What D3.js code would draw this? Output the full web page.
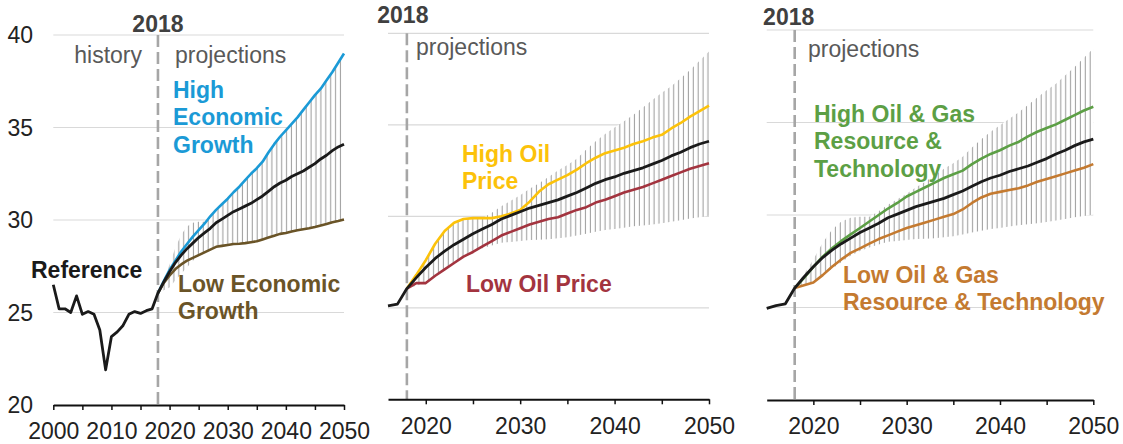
<!DOCTYPE html>
<html>
<head>
<meta charset="utf-8">
<script src="https://cdn.jsdelivr.net/npm/d3@7"></script>
<style>
    body { margin: 0; background: #fff; }
    svg text { font-family: Arial, "Liberation Sans", sans-serif; }
</style>
</head>
<body>
<svg id="chart" width="1123" height="444"></svg>
<script>
// ---- data ----
var refYears = d3.range(2000, 2051);
var projYears = d3.range(2018, 2051);

var reference = [26.5, 25.2, 25.2, 25.0, 25.9, 24.9, 25.05, 24.9, 24.05, 21.9,
                 23.7, 23.95, 24.3, 24.9, 25.05, 24.95, 25.1, 25.2, 26.05, 26.65,
                 27.2, 27.7, 28.1, 28.45, 28.75, 29.05, 29.3, 29.55, 29.85, 30.05,
                 30.25, 30.45, 30.6, 30.75, 30.9, 31.1, 31.3, 31.55, 31.8, 32.0,
                 32.15, 32.35, 32.5, 32.65, 32.85, 33.05, 33.3, 33.5, 33.75, 33.95,
                 34.1];

var highEcon = [26.05, 26.7, 27.3, 27.8, 28.3, 28.7, 29.1, 29.45, 29.8, 30.2,
                30.55, 30.85, 31.15, 31.5, 31.8, 32.15, 32.5, 32.8, 33.15, 33.65,
                34.1, 34.5, 34.85, 35.2, 35.55, 35.95, 36.35, 36.75, 37.1, 37.55,
                38.0, 38.5, 39.0];
var lowEcon = [26.05, 26.6, 27.0, 27.35, 27.6, 27.8, 27.95, 28.1, 28.25, 28.4,
               28.55, 28.6, 28.65, 28.7, 28.72, 28.75, 28.8, 28.85, 28.95, 29.05,
               29.15, 29.25, 29.3, 29.38, 29.45, 29.5, 29.55, 29.62, 29.7, 29.78,
               29.88, 29.95, 30.03];
var highOil = [26.05, 26.8, 27.6, 28.5, 29.2, 29.65, 29.85, 29.9, 29.9, 29.9,
               30.0, 30.15, 30.35, 30.8, 31.35, 31.75, 32.0, 32.25, 32.55, 32.9,
               33.2, 33.45, 33.6, 33.75, 33.95, 34.1, 34.3, 34.45, 34.8, 35.1,
               35.45, 35.75, 36.05];
var lowOil = [26.05, 26.35, 26.35, 26.75, 27.1, 27.45, 27.8, 28.05, 28.35, 28.65,
              28.95, 29.15, 29.35, 29.55, 29.7, 29.85, 29.95, 30.15, 30.35, 30.5,
              30.75, 30.9, 31.1, 31.3, 31.45, 31.6, 31.8, 32.0, 32.2, 32.4,
              32.6, 32.75, 32.9];
var highOG = [26.05, 26.6, 27.2, 27.75, 28.2, 28.6, 28.95, 29.3, 29.65, 30.0,
              30.35, 30.65, 31.0, 31.25, 31.5, 31.75, 32.0, 32.2, 32.4, 32.75,
              33.05, 33.3, 33.5, 33.75, 33.95, 34.25, 34.5, 34.7, 34.9, 35.15,
              35.4, 35.65, 35.85];
var lowOG = [26.05, 26.2, 26.35, 26.75, 27.2, 27.6, 27.95, 28.2, 28.45, 28.7,
             28.9, 29.1, 29.3, 29.45, 29.6, 29.75, 29.9, 30.05, 30.3, 30.65,
             30.95, 31.15, 31.25, 31.35, 31.45, 31.6, 31.8, 31.95, 32.1, 32.25,
             32.4, 32.55, 32.75];

var yTicks = [20, 25, 30, 35, 40];
var xTickLabels = [2000, 2010, 2020, 2030, 2040, 2050];
var splitYear = 2018;

var highEconLabel = ["High", "Economic", "Growth"];
var lowEconLabel = ["Low Economic", "Growth"];
var highOilLabel = ["High Oil", "Price"];
var lowOilLabel = ["Low Oil Price"];
var highOGLabel = ["High Oil & Gas", "Resource &", "Technology"];
var lowOGLabel = ["Low Oil & Gas", "Resource & Technology"];

// range of all side cases -> hatched band
var sideCases = [highEcon, lowEcon, highOil, lowOil, highOG, lowOG];
var band = projYears.map(function(yr, i) {
    return {
        year: yr,
        lo: d3.min(sideCases, function(s) { return s[i]; }),
        hi: d3.max(sideCases, function(s) { return s[i]; })
    };
});

var colors = {
    ref: "#1a1a1a", highEcon: "#1b9ad6", lowEcon: "#6a5427",
    highOil: "#fcc20a", lowOil: "#a3343f", highOG: "#5c9f45", lowOG: "#c47a30"
};

var fontSize = "23px";

// ---- panel layout ----
var panels = [
    { x0: 2000, x: [53.3, 344], y: [405, 35], yLabels: true, tickStart: 2000,
      yr: { dx: 0, y: 32 }, proj: { x: 175, y: 63 }, hist: { x: 142, y: 63 },
      cases: [
        { data: highEcon, color: colors.highEcon, label: highEconLabel, lx: 173, ly: 98 },
        { data: lowEcon, color: colors.lowEcon, label: lowEconLabel, lx: 178, ly: 292 }
      ],
      refLabel: { x: 31, y: 278 } },
    { x0: 2016, x: [388, 709], y: [399.3, 33.3], yLabels: false, tickStart: 2020,
      yr: { dx: -4, y: 23 }, proj: { x: 416, y: 55 },
      cases: [
        { data: highOil, color: colors.highOil, label: highOilLabel, lx: 462, ly: 162 },
        { data: lowOil, color: colors.lowOil, label: lowOilLabel, lx: 466, ly: 292 }
      ] },
    { x0: 2015, x: [766.7, 1093.3], y: [400, 30], yLabels: false, tickStart: 2020,
      yr: { dx: -6, y: 25 }, proj: { x: 808, y: 57 },
      cases: [
        { data: highOG, color: colors.highOG, label: highOGLabel, lx: 814, ly: 122 },
        { data: lowOG, color: colors.lowOG, label: lowOGLabel, lx: 843, ly: 283 }
      ] }
];

var svg = d3.select("#chart");

// hatch pattern: white background with thin vertical grey lines
var pat = svg.append("defs").append("pattern")
    .attr("id", "hatch")
    .attr("patternUnits", "userSpaceOnUse")
    .attr("width", 4.9)
    .attr("height", 10);
pat.append("rect").attr("width", 4.9).attr("height", 10).attr("fill", "#fff");
pat.append("line")
    .attr("x1", 2.4).attr("x2", 2.4).attr("y1", 0).attr("y2", 10)
    .attr("stroke", "#a2a2a2").attr("stroke-width", 1.1);

panels.forEach(function(p) {
    var x = d3.scaleLinear().domain([p.x0, 2050]).range(p.x);
    var y = d3.scaleLinear().domain([20, 40]).range(p.y);
    var g = svg.append("g");

    // gridlines
    g.selectAll("line.grid")
        .data(yTicks.filter(function(d) { return d > 20; }))
        .enter().append("line")
        .attr("class", "grid")
        .attr("x1", p.x[0]).attr("x2", p.x[1])
        .attr("y1", function(d) { return y(d); })
        .attr("y2", function(d) { return y(d); })
        .attr("stroke", "#d9d9d9")
        .attr("stroke-width", 1.2);

    if (p.yLabels) {
        g.selectAll("text.ylab")
            .data(yTicks)
            .enter().append("text")
            .attr("x", 33)
            .attr("y", function(d) { return y(d); })
            .attr("dy", "0.35em")
            .attr("text-anchor", "end")
            .style("font-size", fontSize)
            .style("fill", "#222")
            .text(function(d) { return d; });
    }

    // hatched range band
    var area = d3.area()
        .x(function(d) { return x(d.year); })
        .y0(function(d) { return y(d.lo); })
        .y1(function(d) { return y(d.hi); });
    g.append("path")
        .datum(band)
        .attr("d", area)
        .attr("fill", "url(#hatch)");

    // 2018 divider
    g.append("line")
        .attr("x1", x(splitYear)).attr("x2", x(splitYear))
        .attr("y1", y(40)).attr("y2", y(20))
        .attr("stroke", "#a6a6a6")
        .attr("stroke-width", 2.6)
        .attr("stroke-dasharray", "12,5");
    g.append("text")
        .attr("x", x(splitYear) + p.yr.dx)
        .attr("y", p.yr.y)
        .attr("text-anchor", "middle")
        .style("font-size", fontSize)
        .style("font-weight", "bold")
        .style("fill", "#404040")
        .text(splitYear);
    g.append("text")
        .attr("x", p.proj.x).attr("y", p.proj.y)
        .style("font-size", fontSize)
        .style("fill", "#595959")
        .text("projections");
    if (p.hist) {
        g.append("text")
            .attr("x", p.hist.x).attr("y", p.hist.y)
            .attr("text-anchor", "end")
            .style("font-size", fontSize)
            .style("fill", "#595959")
            .text("history");
    }

    // x axis
    var axis = d3.axisBottom(x)
        .tickValues(d3.range(p.tickStart, 2051, 5))
        .tickSize(5)
        .tickSizeOuter(0)
        .tickPadding(13)
        .tickFormat(function(d) { return xTickLabels.indexOf(d) >= 0 ? d : ""; });
    var ax = g.append("g")
        .attr("transform", "translate(0," + p.y[0] + ")")
        .call(axis);
    ax.select(".domain").attr("stroke", "#111").attr("stroke-width", 2);
    ax.selectAll(".tick line").attr("stroke", "#111").attr("stroke-width", 1.5);
    ax.selectAll(".tick text")
        .style("font-size", fontSize)
        .style("fill", "#222")
        .style("font-family", "Arial, 'Liberation Sans', sans-serif");

    // series lines
    var line = d3.line()
        .x(function(d) { return x(d[0]); })
        .y(function(d) { return y(d[1]); });

    p.cases.forEach(function(c) {
        g.append("path")
            .datum(projYears.map(function(yr, i) { return [yr, c.data[i]]; }))
            .attr("d", line)
            .attr("fill", "none")
            .attr("stroke", c.color)
            .attr("stroke-width", 2.6)
            .attr("stroke-linejoin", "round");
    });

    var refPts = refYears.map(function(yr, i) { return [yr, reference[i]]; })
        .filter(function(d) { return d[0] >= p.x0; });
    g.append("path")
        .datum(refPts)
        .attr("d", line)
        .attr("fill", "none")
        .attr("stroke", colors.ref)
        .attr("stroke-width", 2.8)
        .attr("stroke-linejoin", "round");

    // labels
    p.cases.forEach(function(c) {
        var t = g.append("text")
            .attr("x", c.lx).attr("y", c.ly)
            .style("font-size", fontSize)
            .style("font-weight", "bold")
            .style("fill", c.color);
        c.label.forEach(function(s, k) {
            t.append("tspan")
                .attr("x", c.lx)
                .attr("dy", k === 0 ? 0 : 27.3)
                .text(s);
        });
    });
    if (p.refLabel) {
        g.append("text")
            .attr("x", p.refLabel.x).attr("y", p.refLabel.y)
            .style("font-size", fontSize)
            .style("font-weight", "bold")
            .style("fill", colors.ref)
            .text("Reference");
    }
});
</script>
</body>
</html>
